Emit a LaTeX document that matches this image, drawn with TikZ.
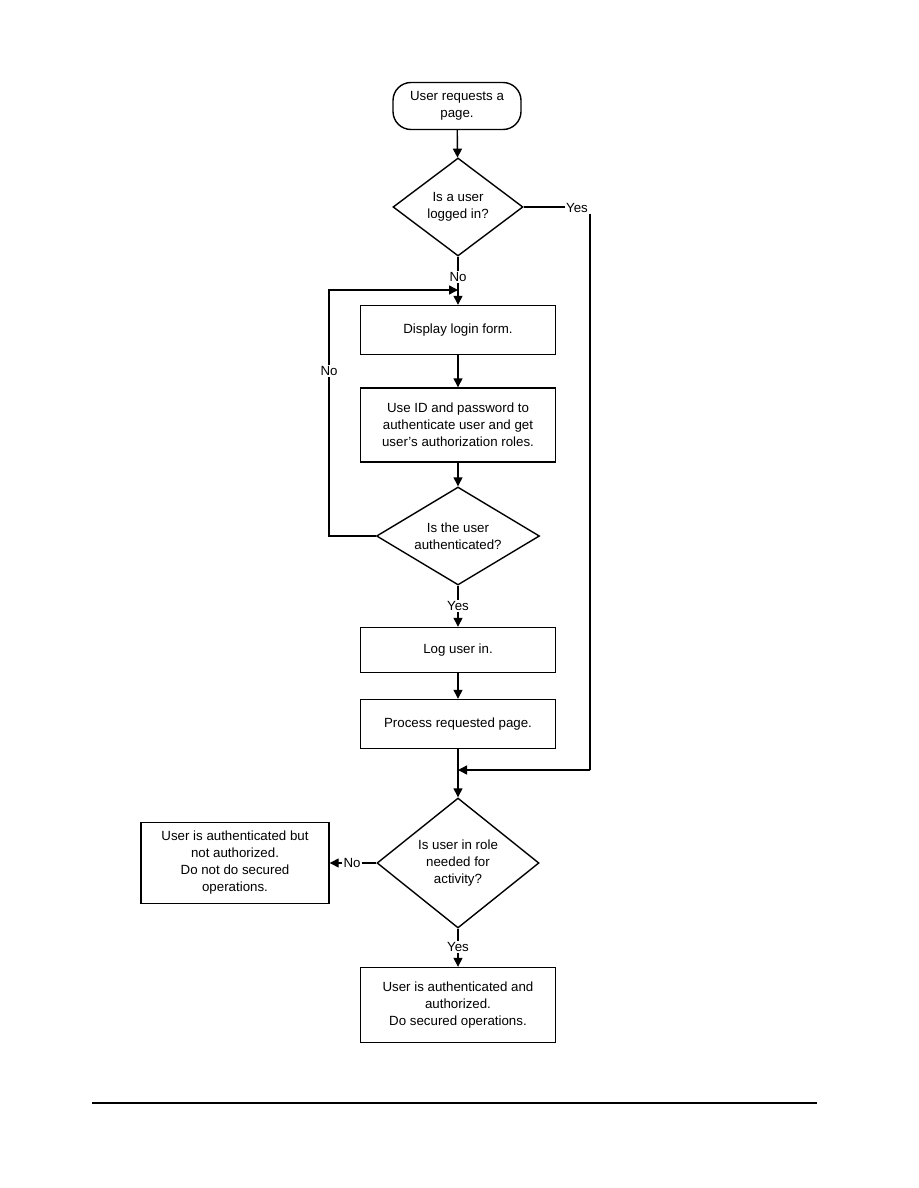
\documentclass[tikz,border=0pt]{standalone}
\usepackage{fontspec}
\setmainfont{Liberation Sans}
\usetikzlibrary{shapes.geometric,arrows.meta}

\tikzset{
  flow/.style={line width=1.4pt},
  arr/.style={flow, -{Triangle[length=9pt,width=9pt]}},
  term/.style={draw, flow, rounded corners=18pt, minimum width=128pt, minimum height=47pt, align=center, inner sep=0pt},
  stepbox/.style={draw, flow, minimum width=195pt, align=center, inner sep=0pt},
  decide/.style={draw, flow, diamond, inner sep=0pt, align=center},
  lbl/.style={inner sep=1pt}
}

\begin{document}
\begin{tikzpicture}[x=1pt, y=-1pt, every node/.style={font=\fontsize{13.3}{17}\selectfont}]
  \useasboundingbox (0,0) rectangle (918,1188);

  % ================= main column =================
  \node[term] (start) at (457,106) {User requests a\\page.};
  \node[decide, minimum width=130pt, minimum height=98pt, aspect=1.33] (qlog) at (458,207) {Is a user\\logged in?};
  \node[stepbox, minimum height=49pt] (login) at (458,330) {Display login form.};
  \node[stepbox, minimum height=74pt] (check) at (458,425) {Use ID and password to\\authenticate user and get\\user's authorization roles.};
  \node[decide, minimum width=163pt, minimum height=98pt, aspect=1.66] (qauth) at (458,536) {Is the user\\authenticated?};
  \node[stepbox, minimum height=45pt] (logon) at (458,650) {Log user in.};
  \node[stepbox, minimum height=49pt] (proc) at (458,724) {Process requested page.};
  \node[decide, minimum width=162pt, minimum height=130pt, aspect=1.25] (qrole) at (458,863) {Is user in role\\needed for\\activity?};
  \node[stepbox, minimum height=75pt] (granted) at (458,1005) {User is authenticated and\\authorized.\\Do secured operations.};
  \node[stepbox, minimum width=188pt, minimum height=81pt] (denied) at (235,863) {User is authenticated but\\not authorized.\\Do not do secured\\operations.};

  % ================= labels =================
  \node[lbl] (yes1) at (577,208) {Yes};
  \node[lbl] (no1) at (458,277) {No};
  \node[lbl] (no2) at (329,371) {No};
  \node[lbl] (yes2) at (458,606) {Yes};
  \node[lbl] (no3) at (352,863) {No};
  \node[lbl] (yes3) at (458,947) {Yes};

  \coordinate (loopin) at (458,290);
  \coordinate (yturn) at (590,770);
  \coordinate (merge) at (458,770);

  % ================= connectors =================
  \draw[arr] (start) -- (qlog);
  \draw[flow] (qlog.east) -- (qlog.east -| yes1.west);
  \draw[flow] (yes1.south -| yturn) -- (yturn);
  \draw[arr] (yturn) -- (merge);
  \draw[flow] (qlog.south) -- (no1.north);
  \draw[arr] (no1.south) -- (login.north);
  \draw[arr] (login) -- (check);
  \draw[arr] (check) -- (qauth);
  \draw[flow] (qauth.west) -| (no2.south);
  \draw[arr] (no2.north) |- (loopin);
  \draw[flow] (qauth.south) -- (yes2.north);
  \draw[arr] (yes2.south) -- (logon.north);
  \draw[arr] (logon) -- (proc);
  \draw[arr] (proc) -- (qrole);
  \draw[flow] (qrole.west) -- (qrole.west -| no3.east);
  \draw[arr] (no3.west) -- (no3.west -| denied.east);
  \draw[flow] (qrole.south) -- (yes3.north);
  \draw[arr] (yes3.south) -- (granted.north);

  % footer rule
  \draw[line width=1.3pt] (92,1103) -- (817,1103);
\end{tikzpicture}
\end{document}
